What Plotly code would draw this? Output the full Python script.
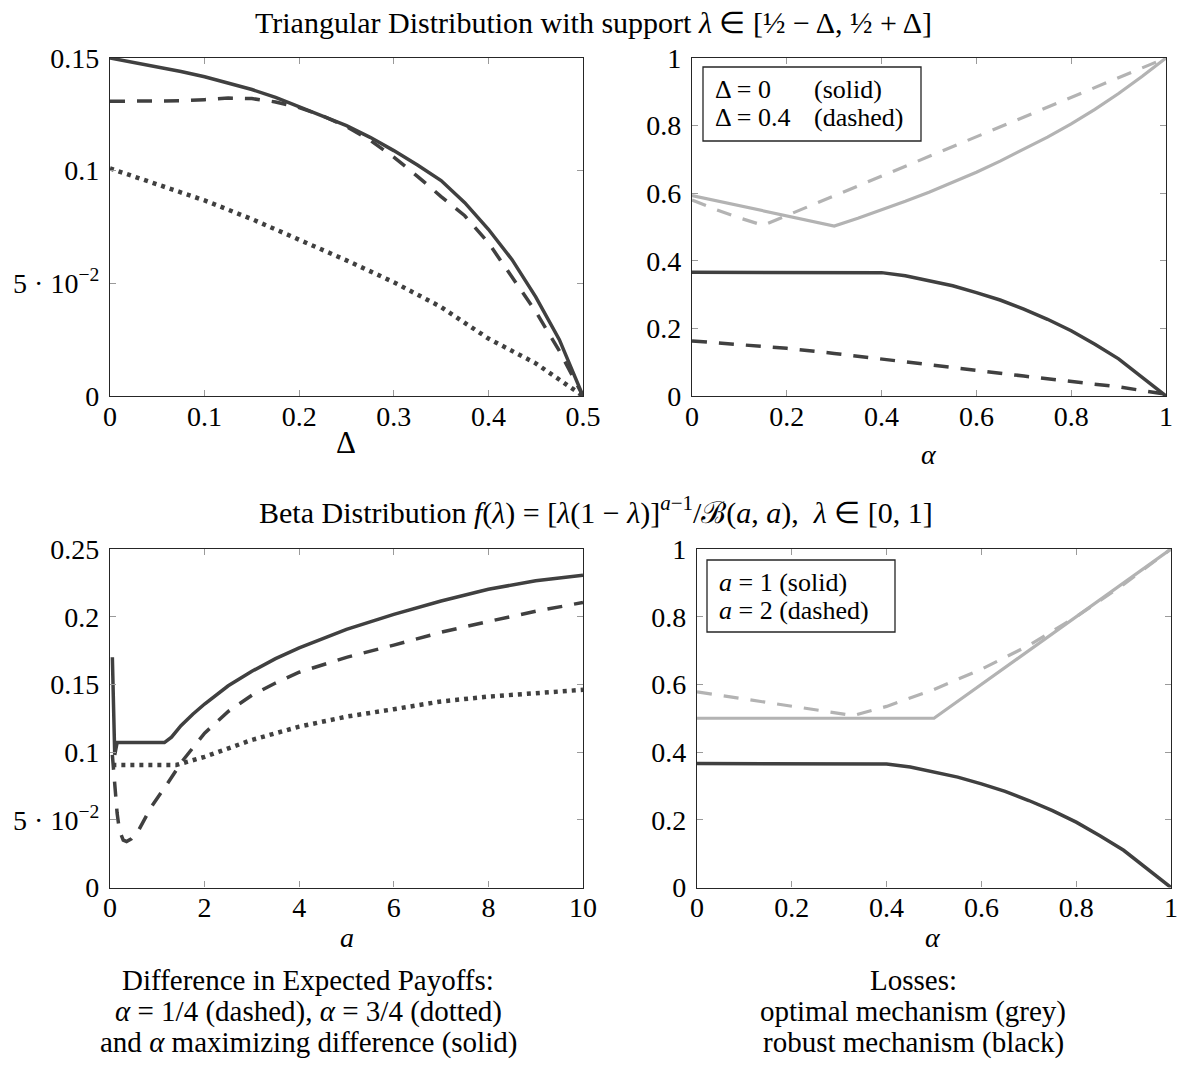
import plotly.graph_objects as go

# ---------------- data ----------------
# Top-left: Triangular distribution, difference in expected payoffs vs Delta
tl_delta_solid = [0, 0.025, 0.05, 0.075, 0.1, 0.125, 0.15, 0.175, 0.2, 0.225, 0.25, 0.275,
                  0.3, 0.325, 0.35, 0.375, 0.4, 0.425, 0.45, 0.475, 0.5]
tl_solid = [0.150, 0.1481, 0.1461, 0.1440, 0.1417, 0.1390, 0.1360, 0.1325, 0.1284, 0.1245,
            0.1200, 0.1148, 0.1089, 0.1025, 0.0956, 0.0858, 0.0740, 0.0605, 0.0440, 0.0250, 0.0]
tl_delta_dashed = [0, 0.025, 0.05, 0.075, 0.1, 0.125, 0.15, 0.175, 0.2, 0.225, 0.25, 0.275,
                   0.3, 0.325, 0.35, 0.375, 0.4, 0.425, 0.45, 0.475, 0.5]
tl_dashed = [0.1308, 0.1308, 0.1308, 0.1310, 0.1315, 0.1322, 0.1320, 0.1305, 0.1280, 0.1243,
             0.1195, 0.1135, 0.1060, 0.0975, 0.0885, 0.0800, 0.0680, 0.0530, 0.0375, 0.0200, 0.0]
tl_delta_dotted = [0, 0.05, 0.1, 0.15, 0.2, 0.25, 0.3, 0.35, 0.4, 0.45, 0.5]
tl_dotted = [0.101, 0.094, 0.0868, 0.0785, 0.0695, 0.0602, 0.0505, 0.0395, 0.0255, 0.0145, 0.0]

# Top-right: losses vs alpha (triangular)
tr_alpha_grey_solid = [0, 0.1, 0.2, 0.3, 0.35, 0.4, 0.45, 0.5, 0.55, 0.6, 0.65, 0.7, 0.75,
                       0.8, 0.85, 0.9, 0.95, 1.0]
tr_grey_solid = [0.593, 0.563, 0.533, 0.503, 0.526, 0.550, 0.576, 0.603, 0.632, 0.662, 0.695,
                 0.730, 0.766, 0.805, 0.848, 0.895, 0.946, 1.0]
tr_alpha_grey_dashed = [0, 0.05, 0.1, 0.15, 0.2, 0.4, 0.6, 0.8, 1.0]
tr_grey_dashed = [0.580, 0.552, 0.527, 0.505, 0.534, 0.650, 0.767, 0.883, 1.0]
tr_alpha_black_solid = [0, 0.1, 0.2, 0.3, 0.4, 0.45, 0.5, 0.55, 0.6, 0.65, 0.7, 0.75, 0.8,
                        0.85, 0.9, 0.95, 1.0]
tr_black_solid = [0.366, 0.366, 0.366, 0.366, 0.365, 0.356, 0.341, 0.326, 0.306, 0.284, 0.257,
                  0.227, 0.193, 0.153, 0.110, 0.056, 0.0]
tr_alpha_black_dashed = [0, 0.1, 0.2, 0.3, 0.4, 0.5, 0.6, 0.7, 0.8, 0.9, 1.0]
tr_black_dashed = [0.163, 0.153, 0.141, 0.126, 0.110, 0.093, 0.076, 0.059, 0.042, 0.027, 0.005]

# Bottom-left: Beta distribution, difference in expected payoffs vs a
bl_a_solid = [0.05, 0.1, 0.15, 0.5, 1.0, 1.15, 1.3, 1.5, 1.75, 2, 2.5, 3, 3.5, 4, 5, 6, 7, 8, 9, 10]
bl_solid = [0.170, 0.098, 0.107, 0.107, 0.107, 0.107, 0.111, 0.1195, 0.128, 0.1355, 0.149,
            0.1597, 0.169, 0.177, 0.1906, 0.2017, 0.2116, 0.2203, 0.2265, 0.2307]
bl_a_dashed = [0.05, 0.1, 0.15, 0.2, 0.28, 0.35, 0.45, 0.6, 0.88, 1.2, 1.52, 2, 2.5, 3, 3.5, 4,
               5, 6, 7, 8, 9, 10]
bl_dashed = [0.098, 0.075, 0.055, 0.042, 0.035, 0.034, 0.036, 0.042, 0.060, 0.076, 0.093, 0.114,
             0.130, 0.142, 0.151, 0.159, 0.170, 0.179, 0.1885, 0.1965, 0.204, 0.2105]
bl_a_dotted = [0.05, 0.5, 1.0, 1.4, 2, 3, 4, 5, 6, 7, 8, 9, 10]
bl_dotted = [0.0905, 0.0905, 0.0905, 0.0905, 0.0965, 0.109, 0.1188, 0.1262, 0.1317, 0.1374,
             0.141, 0.1436, 0.146]

# Bottom-right: losses vs alpha (beta)
br_alpha_grey_solid = [0, 0.5, 1.0]
br_grey_solid = [0.5, 0.5, 1.0]
br_alpha_grey_dashed = [0, 0.1, 0.2, 0.3, 0.33, 0.4, 0.5, 0.6, 0.7, 0.8, 0.9, 1.0]
br_grey_dashed = [0.578, 0.557, 0.535, 0.515, 0.508, 0.535, 0.585, 0.645, 0.715, 0.800, 0.895, 1.0]
br_alpha_black_solid = [0, 0.1, 0.2, 0.3, 0.4, 0.45, 0.5, 0.55, 0.6, 0.65, 0.7, 0.75, 0.8,
                        0.85, 0.9, 0.95, 1.0]
br_black_solid = [0.366, 0.366, 0.366, 0.366, 0.365, 0.356, 0.341, 0.326, 0.306, 0.284, 0.257,
                  0.227, 0.193, 0.153, 0.110, 0.056, 0.0]

# tick labels
tl_xticks = [0, 0.1, 0.2, 0.3, 0.4, 0.5]
tl_xtext = ["0", "0.1", "0.2", "0.3", "0.4", "0.5"]
tl_yticks = [0, 0.05, 0.1, 0.15]
tl_ytext = ["0", "5 · 10<sup>−2</sup>", "0.1", "0.15"]
unit_ticks = [0, 0.2, 0.4, 0.6, 0.8, 1.0]
unit_text = ["0", "0.2", "0.4", "0.6", "0.8", "1"]
bl_xticks = [0, 2, 4, 6, 8, 10]
bl_xtext = ["0", "2", "4", "6", "8", "10"]
bl_yticks = [0, 0.05, 0.1, 0.15, 0.2, 0.25]
bl_ytext = ["0", "5 · 10<sup>−2</sup>", "0.1", "0.15", "0.2", "0.25"]

# ---------------- style ----------------
W, H = 1179, 1067
FONT = "Liberation Serif"
FS = 28
BLACK = "#404040"
GREY = "#b3b3b3"
DASH = "15px,12px"
DOT = "4px,5px"


def fx(px):
    return px / W


def fy(py):
    return 1 - py / H


fig = go.Figure()


def add(x, y, ax, color, dash=None, width=3.5):
    fig.add_trace(go.Scatter(
        x=x, y=y, mode="lines", xaxis="x" + ax, yaxis="y" + ax, showlegend=False,
        line=dict(color=color, width=width, dash=dash or "solid"), hoverinfo="skip"))


# top-left
add(tl_delta_dotted, tl_dotted, "", BLACK, DOT, 4.5)
add(tl_delta_dashed, tl_dashed, "", BLACK, DASH)
add(tl_delta_solid, tl_solid, "", BLACK)
# top-right
add(tr_alpha_grey_solid, tr_grey_solid, "2", GREY, None, 3.2)
add(tr_alpha_grey_dashed, tr_grey_dashed, "2", GREY, DASH, 3.2)
add(tr_alpha_black_solid, tr_black_solid, "2", BLACK)
add(tr_alpha_black_dashed, tr_black_dashed, "2", BLACK, DASH)
# bottom-left
add(bl_a_dotted, bl_dotted, "3", BLACK, DOT, 4.5)
add(bl_a_dashed, bl_dashed, "3", BLACK, DASH)
add(bl_a_solid, bl_solid, "3", BLACK)
# bottom-right
add(br_alpha_grey_dashed, br_grey_dashed, "4", GREY, DASH, 3.2)
add(br_alpha_grey_solid, br_grey_solid, "4", GREY, None, 3.2)
add(br_alpha_black_solid, br_black_solid, "4", BLACK)


def axis(domain, rng, tv, tt, anchor, standoff):
    return dict(domain=domain, range=rng, tickvals=tv, ticktext=tt, anchor=anchor,
                ticks="inside", ticklen=6, tickwidth=1, tickcolor="#9a9a9a",
                mirror="allticks", showline=True, linecolor="#262626", linewidth=1.3,
                showgrid=False, zeroline=False, ticklabelstandoff=standoff, automargin=False,
                tickfont=dict(family=FONT, size=FS, color="black"), fixedrange=True)


top_dom = [fy(396), fy(58)]
bot_dom = [fy(887.5), fy(549)]
left_dom = [fx(110), fx(583)]
tr_dom = [fx(692), fx(1166)]
br_dom = [fx(697), fx(1171)]

XS, YS = -5, 4
fig.update_layout(
    xaxis=axis(left_dom, [0, 0.5], tl_xticks, tl_xtext, "y", XS),
    yaxis=axis(top_dom, [0, 0.15], tl_yticks, tl_ytext, "x", YS),
    xaxis2=axis(tr_dom, [0, 1], unit_ticks, unit_text, "y2", XS),
    yaxis2=axis(top_dom, [0, 1], unit_ticks, unit_text, "x2", YS),
    xaxis3=axis(left_dom, [0, 10], bl_xticks, bl_xtext, "y3", XS),
    yaxis3=axis(bot_dom, [0, 0.25], bl_yticks, bl_ytext, "x3", YS),
    xaxis4=axis(br_dom, [0, 1], unit_ticks, unit_text, "y4", XS),
    yaxis4=axis(bot_dom, [0, 1], unit_ticks, unit_text, "x4", YS),
)


def text(s, x, y, size=FS, xanchor="center"):
    fig.add_annotation(text=s, x=fx(x), y=fy(y), xref="paper", yref="paper",
                       xanchor=xanchor, yanchor="middle", showarrow=False,
                       font=dict(family=FONT, size=size, color="black"))


# titles
text("Triangular Distribution with support <i>λ</i> ∈ [½ − Δ, ½ + Δ]", 594, 22, 30)
text("Beta Distribution <i>f</i>(<i>λ</i>) = [<i>λ</i>(1 − <i>λ</i>)]<sup><i>a</i>−1</sup>"
     "/ℬ(<i>a</i>, <i>a</i>),  <i>λ</i> ∈ [0, 1]", 596, 510, 30)
# axis labels
text("Δ", 346, 443, 31)
text("<i>α</i>", 929, 454)
text("<i>a</i>", 347, 937)
text("<i>α</i>", 933, 937)
# captions
text("Difference in Expected Payoffs:", 308, 980, 29)
text("<i>α</i> = 1/4 (dashed), <i>α</i> = 3/4 (dotted)", 308, 1011, 29)
text("and <i>α</i> maximizing difference (solid)", 308, 1042, 29)
text("Losses:", 913, 980, 29)
text("optimal mechanism (grey)", 913, 1011, 29)
text("robust mechanism (black)", 913, 1042, 29)

# legend boxes
fig.add_shape(type="rect", xref="paper", yref="paper", x0=fx(703), x1=fx(921),
              y0=fy(141), y1=fy(67), line=dict(color="#262626", width=1.3),
              fillcolor="white", layer="above")
text("Δ = 0", 713, 89, 26, xanchor="left")
text("Δ = 0.4", 713, 118, 26, xanchor="left")
text("(solid)", 812, 89, 26, xanchor="left")
text("(dashed)", 812, 118, 26, xanchor="left")

fig.add_shape(type="rect", xref="paper", yref="paper", x0=fx(707), x1=fx(895),
              y0=fy(632), y1=fy(560), line=dict(color="#262626", width=1.3),
              fillcolor="white", layer="above")
text("<i>a</i> = 1 (solid)", 717, 582, 26, xanchor="left")
text("<i>a</i> = 2 (dashed)", 717, 610, 26, xanchor="left")

fig.update_layout(
    width=W, height=H, margin=dict(l=0, r=0, t=0, b=0, pad=0),
    paper_bgcolor="white", plot_bgcolor="white",
    font=dict(family=FONT, size=FS, color="black"),
)

fig.write_html("out.html",
               config={"displayModeBar": False},
               post_script="document.body.style.margin='0px';"
                           "document.body.style.overflow='hidden';")
